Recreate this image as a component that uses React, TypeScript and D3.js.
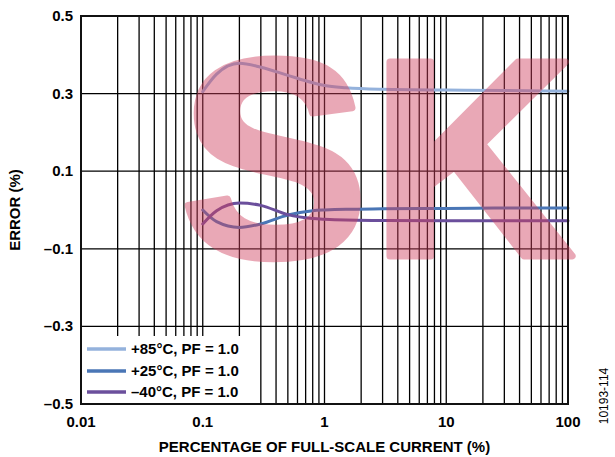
import React from "react";
import * as d3 from "d3";

const currentPct = [0.1, 0.13, 0.2, 0.3, 0.5, 0.8, 1, 1.5, 3, 10, 30, 100];
const error85 = [0.305, 0.35, 0.378, 0.368, 0.347, 0.328, 0.321, 0.315, 0.311, 0.309, 0.308, 0.306];
const error25 = [0.0, -0.03, -0.045, -0.036, -0.013, -0.002, 0.0, 0.002, 0.003, 0.004, 0.005, 0.005];
const errorM40 = [-0.036, -0.002, 0.018, 0.012, -0.012, -0.022, -0.024, -0.026, -0.027, -0.028, -0.028, -0.028];

const seriesNames = ["+85°C, PF = 1.0", "+25°C, PF = 1.0", "–40°C, PF = 1.0"];
const seriesColors = ["#94b2dc", "#4a76b6", "#6b4f9c"];
const seriesValues = [error85, error25, errorM40];

const xTickValues = [0.01, 0.1, 1, 10, 100];
const xTickLabels = ["0.01", "0.1", "1", "10", "100"];
const yTickValues = [-0.5, -0.3, -0.1, 0.1, 0.3, 0.5];
const yTickLabels = ["–0.5", "–0.3", "–0.1", "0.1", "0.3", "0.5"];

const W = 615;
const H = 457;
const M = { left: 81, right: 568, top: 16, bottom: 404 };
const FONT = "'Liberation Sans', Arial, Helvetica, sans-serif";

export default function App() {
  const x = d3.scaleLog().domain([0.01, 100]).range([M.left, M.right]);
  const y = d3.scaleLinear().domain([-0.5, 0.5]).range([M.bottom, M.top]);

  const minor: number[] = [];
  for (let dec = 0.01; dec < 100; dec *= 10) {
    for (let k = 2; k <= 9; k++) minor.push(dec * k);
  }
  const majorInner = [0.1, 1, 10];
  const vLines = [...minor, ...majorInner];
  const hLines = [-0.3, -0.1, 0.1, 0.3];

  const line = d3
    .line<[number, number]>()
    .x((d) => x(d[0]))
    .y((d) => y(d[1]))
    .curve(d3.curveMonotoneX);

  const legendX = M.left;
  const legendTop = 336;
  const legendRight = 253;
  const legendRows = [349, 371, 392];

  return (
    <svg
      width={W}
      height={H}
      style={{ position: "absolute", left: 0, top: 0, background: "#fff" }}
      fontFamily={FONT}
    >
      <rect x={0} y={0} width={W} height={H} fill="#fff" />
      {vLines.map((v, i) => (
        <line key={"v" + i} x1={x(v)} x2={x(v)} y1={M.top} y2={M.bottom} stroke="#000" strokeWidth={1.3} />
      ))}
      {hLines.map((v, i) => (
        <line key={"h" + i} x1={M.left} x2={M.right} y1={y(v)} y2={y(v)} stroke="#000" strokeWidth={1.3} />
      ))}
      <rect x={legendX} y={legendTop} width={legendRight - legendX} height={M.bottom - legendTop} fill="#fff" />
      {seriesValues.map((vals, i) => (
        <path
          key={"s" + i}
          d={line(currentPct.map((c, j) => [c, vals[j]] as [number, number])) || ""}
          fill="none"
          stroke={seriesColors[i]}
          strokeWidth={3}
          strokeLinecap="round"
        />
      ))}
      <rect
        x={M.left}
        y={M.top}
        width={M.right - M.left}
        height={M.bottom - M.top}
        fill="none"
        stroke="#111"
        strokeWidth={2}
      />
      {seriesNames.map((name, i) => (
        <g key={"l" + i}>
          <line x1={87} x2={126} y1={legendRows[i]} y2={legendRows[i]} stroke={seriesColors[i]} strokeWidth={3.5} />
          <text x={131} y={legendRows[i] + 5} fontSize={15} fontWeight="bold" fill="#000">
            {name}
          </text>
        </g>
      ))}
      {yTickValues.map((v, i) => (
        <text key={"yt" + i} x={73} y={y(v) + 5} textAnchor="end" fontSize={15} fontWeight="bold" fill="#000">
          {yTickLabels[i]}
        </text>
      ))}
      {xTickValues.map((v, i) => (
        <text key={"xt" + i} x={x(v)} y={427} textAnchor="middle" fontSize={15} fontWeight="bold" fill="#000">
          {xTickLabels[i]}
        </text>
      ))}
      <text x={(M.left + M.right) / 2} y={452} textAnchor="middle" fontSize={15} fontWeight="bold" fill="#000">
        PERCENTAGE OF FULL-SCALE CURRENT (%)
      </text>
      <text
        transform={`translate(20, ${(M.top + M.bottom) / 2}) rotate(-90)`}
        textAnchor="middle"
        fontSize={15}
        fontWeight="bold"
        fill="#000"
      >
        ERROR (%)
      </text>
      <text
        transform={`translate(608, 396) rotate(-90)`}
        textAnchor="middle"
        fontSize={12}
        fill="#000"
      >
        10193-114
      </text>
      <text
        x={180}
        y={256}
        fontSize={282}
        fontWeight="bold"
        fill="#d0405e"
        stroke="#d0405e"
        strokeWidth={7}
        strokeLinejoin="round"
        opacity={0.45}
        letterSpacing={3}
      >
        SK
      </text>
    </svg>
  );
}
